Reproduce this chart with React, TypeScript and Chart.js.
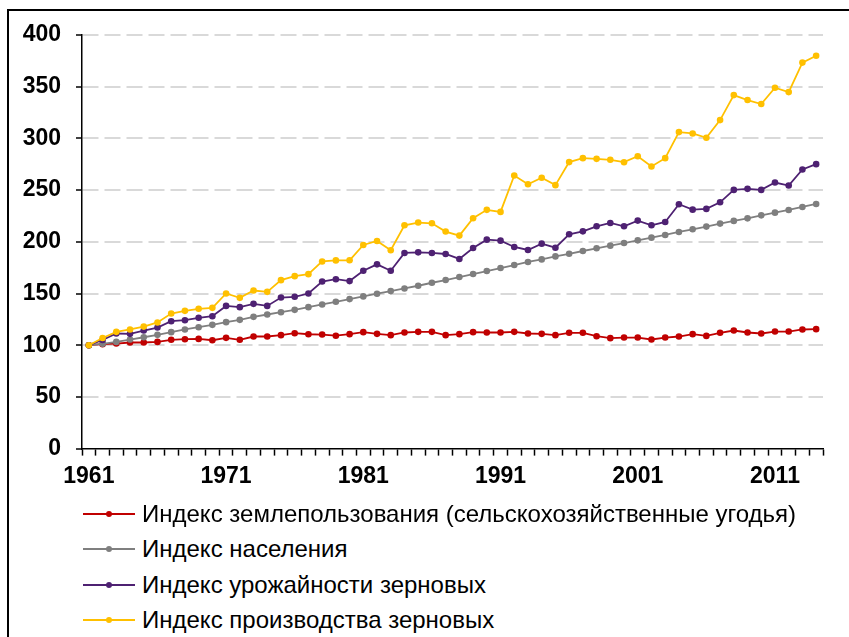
import React, { useEffect, useRef } from "react";
import { Chart, registerables } from "chart.js";

Chart.register(...registerables);

const years: string[] = [];
for (let y = 1961; y <= 2014; y++) years.push(String(y));

const seriesNames = [
  "Индекс землепользования (сельскохозяйственные угодья)",
  "Индекс населения",
  "Индекс урожайности зерновых",
  "Индекс производства зерновых",
];

const landUse = [
  100, 101.0, 101.6, 102.6, 102.6, 103.2, 105.2, 105.8, 106.1, 104.8,
  107.1, 105.2, 108.4, 108.4, 109.7, 111.6, 110.6, 110.3, 109.2, 110.7,
  112.6, 111.0, 109.7, 112.3, 112.9, 112.9, 109.7, 110.7, 112.6, 112.3,
  112.3, 112.9, 111.3, 111.0, 109.7, 112.0, 112.0, 108.7, 106.8, 107.4,
  107.4, 105.5, 107.4, 108.4, 110.7, 109.0, 112.0, 114.2, 112.3, 111.3,
  113.2, 113.2, 115.2, 115.5,
];

const population = [
  100, 101.3, 103.2, 105.5, 107.7, 110, 112.6, 115.2, 117.4, 119.7,
  122.3, 124.5, 127.4, 129.7, 131.9, 134.2, 136.8, 139.4, 142, 144.6,
  147.2, 149.8, 152.3, 154.9, 157.5, 160.4, 163, 165.9, 168.8, 171.7,
  174.6, 177.5, 180.5, 183, 185.9, 188.4, 191.1, 193.7, 196.3, 198.8,
  201.4, 204, 206.6, 209.5, 212.1, 214.7, 217.6, 220.2, 222.7, 225.6,
  228.2, 230.8, 233.7, 236.6,
];

const cerealYield = [
  100, 105, 111.3, 111, 114.2, 117.1, 123.2, 124.2, 126.5, 128,
  138, 136.8, 140, 138, 146.1, 146.8, 150, 161.6, 163.8, 162,
  172, 178.2, 172, 189.2, 189.8, 189.2, 188.2, 183.4, 194, 202.1,
  201.1, 195, 192.1, 198.2, 194.3, 207.3, 210.1, 215, 218.2, 215,
  220.5, 216, 219.2, 236.3, 231.1, 231.8, 238.2, 250.2, 251.2, 250.2,
  257.3, 254.4, 269.9, 275.1,
];

const cerealProduction = [
  100, 107, 112.9, 115.2, 118, 122, 130.6, 133.2, 135.2, 136.1,
  150, 145.8, 152.9, 151.6, 162.9, 166.8, 168.7, 181, 182, 182.1,
  196.9, 200.8, 191.8, 216, 218.6, 217.9, 209.9, 206, 222.8, 230.9,
  228.9, 264.1, 255.7, 261.9, 254.8, 277.1, 280.9, 280.2, 279.3, 277,
  282.8, 272.8, 280.9, 306.1, 304.8, 300.6, 317.7, 341.9, 337.1, 333.2,
  349, 344.8, 373.3, 380,
];

const colors = ["#C00000", "#7F7F7F", "#4E2172", "#FFC000"];
const seriesData = [landUse, population, cerealYield, cerealProduction];

const FONT = "'Liberation Sans', Arial, sans-serif";

export default function App() {
  const canvasRef = useRef<HTMLCanvasElement | null>(null);

  useEffect(() => {
    const canvas = canvasRef.current;
    if (!canvas) return;
    const chart = new Chart(canvas, {
      type: "line",
      data: {
        labels: years,
        datasets: seriesNames.map((name, i) => ({
          label: name,
          data: seriesData[i],
          borderColor: colors[i],
          backgroundColor: colors[i],
          pointBackgroundColor: colors[i],
          pointBorderWidth: 0,
          pointRadius: 3.3,
          borderWidth: 1.8,
          tension: 0,
          order: 4 - i,
        })),
      },
      options: {
        responsive: false,
        animation: false,
        devicePixelRatio: 1,
        layout: { padding: { left: 0, right: 26, top: 35, bottom: 0 } },
        plugins: {
          legend: { display: false },
          tooltip: { enabled: false },
        },
        scales: {
          x: {
            type: "category",
            offset: true,
            grid: {
              display: true,
              drawOnChartArea: false,
              drawTicks: true,
              tickLength: 7,
              tickColor: "#000000",
              tickWidth: 1.5,
              offset: true,
            },
            border: { display: true, color: "#000000", width: 1.5 },
            ticks: {
              autoSkip: false,
              maxRotation: 0,
              minRotation: 0,
              padding: 7,
              color: "#000000",
              font: { family: FONT, size: 23, weight: "bold" },
              callback: (_v: any, i: number) => (i % 10 === 0 ? years[i] : ""),
            },
            afterFit: (scale: any) => {
              scale.height = 51.4;
            },
          },
          y: {
            min: 0,
            max: 400,
            ticks: {
              stepSize: 50,
              padding: 15,
              color: "#000000",
              font: { family: FONT, size: 23, weight: "bold" },
            },
            grid: {
              color: (ctx: any) => (ctx.tick && ctx.tick.value === 0 ? "rgba(0,0,0,0)" : "#D9D9D9"),
              lineWidth: 2,
              drawTicks: true,
              tickLength: 6,
              tickColor: "#000000",
              tickWidth: 1.5,
            },
            border: { display: true, color: "#000000", width: 1.5, dash: [16, 6] },
            afterFit: (scale: any) => {
              scale.width = 82;
            },
          },
        },
      },
    });
    return () => chart.destroy();
  }, []);

  const legendTop = 496.5;
  const rowH = 35.3;

  return (
    <div
      style={{
        position: "fixed",
        left: 0,
        top: 0,
        width: 849,
        height: 637,
        overflow: "hidden",
        background: "#ffffff",
        fontFamily: FONT,
      }}
    >
      <div
        style={{
          position: "absolute",
          left: 7,
          top: 9,
          width: 900,
          height: 700,
          borderTop: "2px solid #000",
          borderLeft: "2px solid #000",
        }}
      />
      <canvas
        ref={canvasRef}
        width={849}
        height={500}
        style={{ position: "absolute", left: 0, top: 0, width: 849, height: 500 }}
      />
      {seriesNames.map((name, i) => (
        <div
          key={name}
          style={{
            position: "absolute",
            left: 83,
            top: legendTop + i * rowH,
            height: rowH,
            display: "flex",
            alignItems: "center",
            whiteSpace: "nowrap",
          }}
        >
          <div style={{ position: "relative", width: 52, height: 20 }}>
            <div
              style={{
                position: "absolute",
                left: 0,
                top: 9,
                width: 52,
                height: 2,
                background: colors[i],
              }}
            />
            <div
              style={{
                position: "absolute",
                left: 23,
                top: 7,
                width: 6,
                height: 6,
                borderRadius: 3,
                background: colors[i],
              }}
            />
          </div>
          <span style={{ marginLeft: 7, fontSize: 24, color: "#000000" }}>{name}</span>
        </div>
      ))}
    </div>
  );
}
